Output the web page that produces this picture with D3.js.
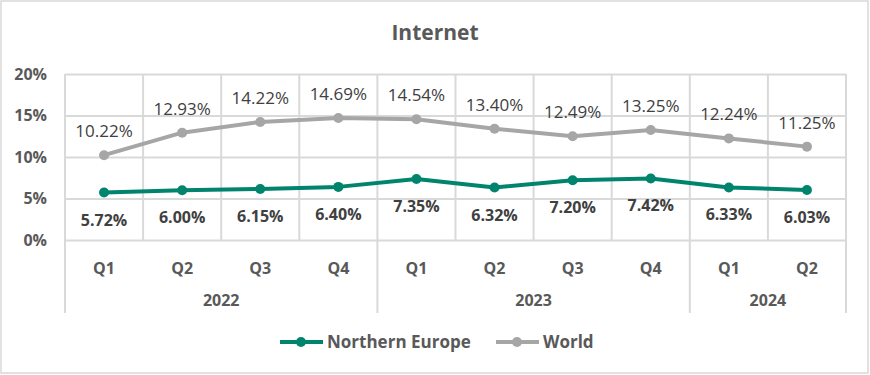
<!DOCTYPE html>
<html>
<head>
<meta charset="utf-8">
<script src="https://cdn.jsdelivr.net/npm/d3@7"></script>
<style>
  body { margin: 0; background: #fff; }
  text { font-family: "Open Sans", "Noto Sans", sans-serif; }
</style>
</head>
<body>
<div class="container"></div>
<script>
const WIDTH = 870;
const HEIGHT = 375;

const quarters = ['Q1', 'Q2', 'Q3', 'Q4', 'Q1', 'Q2', 'Q3', 'Q4', 'Q1', 'Q2'];
const quarterYears = ['2022', '2022', '2022', '2022', '2023', '2023', '2023', '2023', '2024', '2024'];
const years = ['2022', '2023', '2024'];
const northernEurope = [5.72, 6.00, 6.15, 6.40, 7.35, 6.32, 7.20, 7.42, 6.33, 6.03];
const world = [10.22, 12.93, 14.22, 14.69, 14.54, 13.40, 12.49, 13.25, 12.24, 11.25];
const yTicks = [0, 5, 10, 15, 20];

const GREEN = '#00846d';
const GREY = '#a6a6a6';
const TEXT = '#595959';
const GRID = '#d9d9d9';

var translate = function(x, y) {
    return `translate(${x},${y})`;
};

var draw = function() {
    var svg = d3.select('.container').append('svg')
        .attr('width', WIDTH)
        .attr('height', HEIGHT);

    svg.append('rect')
        .attr('x', 1).attr('y', 1)
        .attr('width', 867).attr('height', 372)
        .attr('fill', '#fff')
        .attr('stroke', GRID)
        .attr('stroke-width', 1.5);

    svg.append('text')
        .attr('x', 435).attr('y', 40)
        .attr('text-anchor', 'middle')
        .attr('font-size', 21).attr('font-weight', 'bold')
        .attr('fill', TEXT)
        .text('Internet');

    let idx = d3.range(quarters.length);
    let xScale = d3.scaleBand().domain(idx).range([65, 846]);
    let yScale = d3.scaleLinear().domain([0, 20]).range([240, 74]);
    let cx = (i) => xScale(i) + xScale.bandwidth() / 2;

    // horizontal gridlines
    let yAxis = d3.axisLeft(yScale).tickValues(yTicks)
        .tickSize(-(846 - 65)).tickFormat((d) => d + '%');
    let gy = svg.append('g').attr('transform', translate(65, 0)).call(yAxis);
    gy.select('.domain').remove();
    gy.selectAll('line').attr('stroke', GRID).attr('stroke-width', 2);
    gy.selectAll('text')
        .attr('x', -18)
        .attr('font-size', 16).attr('font-weight', 'bold')
        .attr('fill', TEXT);

    // vertical gridlines between categories
    let bounds = idx.map((i) => xScale(i)).concat([846]);
    svg.append('g').selectAll('line').data(bounds).enter()
        .append('line')
        .attr('x1', (d) => d).attr('x2', (d) => d)
        .attr('y1', 74).attr('y2', 240)
        .attr('stroke', GRID).attr('stroke-width', 2);

    // year separators in the category axis
    let sepIdx = idx.filter((i) => i === 0 || quarterYears[i] !== quarterYears[i - 1]);
    let seps = sepIdx.map((i) => xScale(i)).concat([846]);
    svg.append('g').selectAll('line').data(seps).enter()
        .append('line')
        .attr('x1', (d) => d).attr('x2', (d) => d)
        .attr('y1', 240).attr('y2', 313)
        .attr('stroke', GRID).attr('stroke-width', 2);

    svg.append('g').selectAll('text').data(idx).enter()
        .append('text')
        .attr('x', (i) => cx(i)).attr('y', 274)
        .attr('text-anchor', 'middle')
        .attr('font-size', 16).attr('font-weight', 'bold')
        .attr('fill', TEXT)
        .text((i) => quarters[i]);

    svg.append('g').selectAll('text').data(years).enter()
        .append('text')
        .attr('x', (y) => {
            let ii = idx.filter((i) => quarterYears[i] === y);
            return (xScale(ii[0]) + xScale(ii[ii.length - 1]) + xScale.bandwidth()) / 2;
        })
        .attr('y', 306)
        .attr('text-anchor', 'middle')
        .attr('font-size', 16).attr('font-weight', 'bold')
        .attr('fill', TEXT)
        .text((y) => y);

    var line = d3.line().x((d, i) => cx(i)).y((d) => yScale(d));

    var plotSeries = function(values, color) {
        let g = svg.append('g');
        g.append('path')
            .attr('d', line(values))
            .attr('fill', 'none')
            .attr('stroke', color)
            .attr('stroke-width', 4)
            .attr('stroke-linejoin', 'round');
        g.selectAll('circle').data(values).enter()
            .append('circle')
            .attr('cx', (d, i) => cx(i))
            .attr('cy', (d) => yScale(d))
            .attr('r', 5)
            .attr('fill', color);
        return g;
    };

    plotSeries(world, GREY).selectAll('text.lbl').data(world).enter()
        .append('text')
        .attr('x', (d, i) => cx(i))
        .attr('y', (d) => yScale(d) - 18)
        .attr('text-anchor', 'middle')
        .attr('font-size', 17)
        .attr('fill', '#404040')
        .text((d) => d.toFixed(2) + '%');

    plotSeries(northernEurope, GREEN).selectAll('text.lbl').data(northernEurope).enter()
        .append('text')
        .attr('x', (d, i) => cx(i))
        .attr('y', (d) => yScale(d) + 33)
        .attr('text-anchor', 'middle')
        .attr('font-size', 16).attr('font-weight', 'bold')
        .attr('fill', '#404040')
        .text((d) => d.toFixed(2) + '%');

    // legend
    let legend = [
        { name: 'Northern Europe', color: GREEN, x: 280 },
        { name: 'World', color: GREY, x: 496 }
    ];
    let lg = svg.append('g').selectAll('g').data(legend).enter()
        .append('g').attr('transform', (d) => translate(d.x, 342));
    lg.append('line')
        .attr('x1', 0).attr('x2', 43).attr('y1', 0).attr('y2', 0)
        .attr('stroke', (d) => d.color).attr('stroke-width', 4);
    lg.append('circle').attr('cx', 21).attr('cy', 0).attr('r', 5)
        .attr('fill', (d) => d.color);
    lg.append('text')
        .attr('x', 47).attr('y', 6)
        .attr('font-size', 17).attr('font-weight', 'bold')
        .attr('fill', TEXT)
        .text((d) => d.name);
};
window.onload = draw;
</script>
</body>
</html>
